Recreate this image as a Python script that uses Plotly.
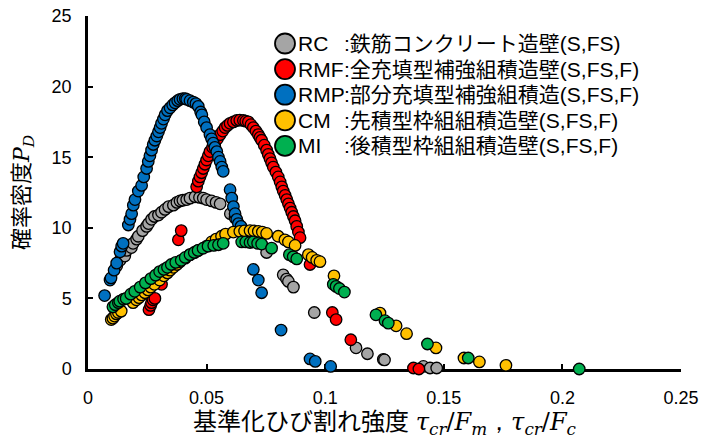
import plotly.graph_objects as go

# ---------------- data ----------------
series_codes = ["RC", "RMF", "RMP", "CM", "MI"]
series_desc = [
    ":鉄筋コンクリート造壁(S,FS)",
    ":全充填型補強組積造壁(S,FS,F)",
    ":部分充填型補強組積造(S,FS,F)",
    ":先積型枠組組積造壁(S,FS,F)",
    ":後積型枠組組積造壁(S,FS,F)",
]
series_colors = ["#A5A5A5", "#FF0000", "#0070C0", "#FFC000", "#00B050"]

rc_x = [0.0121, 0.0135, 0.0155, 0.0163, 0.0183, 0.0190, 0.0205, 0.0212, 0.0230, 0.0247,
        0.0255, 0.0268, 0.0280, 0.0297, 0.0310, 0.0325, 0.0340, 0.0360, 0.0375, 0.0388,
        0.0400, 0.0416, 0.0430, 0.0451, 0.0470, 0.0486, 0.0500, 0.0521, 0.0540, 0.0557,
        0.0600, 0.0620, 0.0753, 0.0823, 0.0837, 0.0845, 0.0866, 0.0954, 0.1130, 0.1178,
        0.1245, 0.1250, 0.1414, 0.1442, 0.1470]
rc_y = [7.3, 7.7, 8.0, 8.4, 8.6, 8.9, 9.2, 9.4, 9.8, 10.1,
        10.3, 10.6, 10.8, 10.9, 11.1, 11.3, 11.5, 11.6, 11.8, 11.9,
        11.95, 12.0, 12.1, 12.2, 12.15, 12.1, 12.0, 11.9, 11.8, 11.7,
        11.0, 10.7, 8.25, 6.67, 6.37, 6.2, 5.8, 4.0, 1.5, 1.08,
        0.68, 0.64, 0.18, 0.07, 0.07]

rmf_x = [0.0257, 0.0264, 0.0268, 0.0274, 0.0282, 0.0310, 0.0381, 0.0393,
         0.0458, 0.0465, 0.0472, 0.0479, 0.0486, 0.0493, 0.0500, 0.0507, 0.0514, 0.0525,
         0.0535, 0.0546, 0.0557, 0.0568, 0.0578, 0.0588, 0.0599, 0.0613, 0.0627, 0.0640,
         0.0655, 0.0665, 0.0676, 0.0687, 0.0697, 0.0708, 0.0718, 0.0725, 0.0732, 0.0743,
         0.0753, 0.0760, 0.0767, 0.0774, 0.0781, 0.0792, 0.0802, 0.0810, 0.0817, 0.0823,
         0.0831, 0.0838, 0.0845, 0.0852, 0.0859, 0.0866, 0.0873, 0.0880, 0.0887, 0.0894,
         0.0936, 0.1030, 0.1046, 0.1108, 0.1372, 0.1395]
rmf_y = [4.2, 4.5, 4.7, 4.9, 5.0, 6.0, 9.15, 9.8,
         12.9, 13.3, 13.6, 13.9, 14.2, 14.5, 14.8, 15.1, 15.4, 15.7,
         16.0, 16.3, 16.6, 16.85, 17.1, 17.25, 17.4, 17.5, 17.6, 17.62,
         17.6, 17.55, 17.5, 17.3, 17.1, 16.85, 16.6, 16.4, 16.2, 15.85,
         15.5, 15.2, 14.9, 14.6, 14.3, 13.95, 13.6, 13.25, 12.9, 12.6,
         12.3, 12.0, 11.7, 11.4, 11.1, 10.8, 10.5, 10.1, 9.7, 9.3,
         7.4, 4.0, 3.5, 2.07, 0.07, 0.0]

rmp_x = [0.0070, 0.0093, 0.0097, 0.0110, 0.0121, 0.0135, 0.0142, 0.0148, 0.0170, 0.0177,
         0.0184, 0.0191, 0.0198, 0.0212, 0.0226, 0.0235, 0.0247, 0.0254, 0.0261, 0.0268,
         0.0275, 0.0282, 0.0290, 0.0297, 0.0304, 0.0310, 0.0318, 0.0325, 0.0335, 0.0346,
         0.0357, 0.0367, 0.0378, 0.0388, 0.0400, 0.0410, 0.0416, 0.0430, 0.0444, 0.0455,
         0.0465, 0.0475, 0.0480, 0.0490, 0.0500, 0.0514, 0.0521, 0.0528, 0.0535, 0.0543,
         0.0550, 0.0557, 0.0564, 0.0570, 0.0599, 0.0606, 0.0613, 0.0620, 0.0627, 0.0634,
         0.0645, 0.0697, 0.0718, 0.0732, 0.0814, 0.0936, 0.0958, 0.1023]
rmp_y = [5.2, 6.3, 6.45, 7.0, 7.5, 8.3, 8.7, 8.9, 10.2, 10.6,
         11.0, 11.6, 12.0, 12.6, 13.0, 13.6, 14.2, 14.7, 15.1, 15.5,
         15.9, 16.2, 16.5, 16.8, 17.1, 17.4, 17.7, 18.0, 18.3, 18.5,
         18.7, 18.85, 19.0, 19.1, 19.15, 19.15, 19.1, 19.0, 18.9, 18.8,
         18.6, 18.2, 18.0, 17.5, 17.1, 16.6, 16.3, 16.0, 15.7, 15.4,
         15.0, 14.7, 14.3, 14.0, 12.7, 12.1, 11.5, 11.0, 10.6, 10.3,
         10.1, 7.05, 6.3, 5.4, 2.76, 0.71, 0.54, 0.18]

cm_x = [0.0098, 0.0105, 0.0112, 0.0120, 0.0128, 0.0140, 0.0190, 0.0204, 0.0215, 0.0226,
        0.0240, 0.0253, 0.0265, 0.0280, 0.0302, 0.0320, 0.0335, 0.0346, 0.0360, 0.0375,
        0.0388, 0.0410, 0.0430, 0.0450, 0.0465, 0.0500, 0.0521, 0.0540, 0.0563, 0.0580,
        0.0613, 0.0640, 0.0660, 0.0683, 0.0700, 0.0718, 0.0735, 0.0753, 0.0802, 0.0830,
        0.0845, 0.0873, 0.0929, 0.0945, 0.0964, 0.0978, 0.1037, 0.1231, 0.1299, 0.1343,
        0.1467, 0.1585, 0.1650, 0.1762]
cm_y = [3.5, 3.6, 3.75, 3.9, 4.0, 4.1, 4.7, 4.9, 5.05, 5.25,
        5.4, 5.6, 5.8, 6.0, 6.3, 6.6, 6.8, 7.0, 7.2, 7.4,
        7.6, 7.85, 8.1, 8.25, 8.4, 8.7, 9.0, 9.2, 9.4, 9.55,
        9.7, 9.75, 9.78, 9.8, 9.78, 9.75, 9.7, 9.6, 9.4, 9.15,
        9.0, 8.75, 8.1, 7.9, 7.7, 7.6, 6.6, 3.96, 3.06, 2.5,
        1.49, 0.78, 0.5, 0.26]

mi_x = [0.0105, 0.0115, 0.0128, 0.0134, 0.0150, 0.0161, 0.0180, 0.0197, 0.0220, 0.0242,
        0.0265, 0.0285, 0.0302, 0.0320, 0.0335, 0.0351, 0.0370, 0.0393, 0.0410, 0.0430,
        0.0448, 0.0464, 0.0485, 0.0506, 0.0530, 0.0550, 0.0570, 0.0648, 0.0665, 0.0683,
        0.0697, 0.0715, 0.0732, 0.0774, 0.0849, 0.0865, 0.0880, 0.1034, 0.1046, 0.1060,
        0.1081, 0.1214, 0.1252, 0.1266, 0.1431, 0.1603, 0.2071]
mi_y = [4.4, 4.55, 4.7, 4.8, 4.95, 5.0, 5.3, 5.5, 5.8, 6.1,
        6.4, 6.65, 6.9, 7.05, 7.2, 7.4, 7.55, 7.7, 7.9, 8.1,
        8.25, 8.4, 8.55, 8.7, 8.75, 8.8, 8.9, 9.0, 9.0, 8.96,
        9.0, 8.9, 8.85, 8.56, 8.1, 7.95, 7.8, 6.0, 5.85, 5.7,
        5.45, 3.84, 3.42, 3.25, 1.77, 0.78, 0.0]

x_ticks = [0, 0.05, 0.1, 0.15, 0.2, 0.25]
y_ticks = [0, 5, 10, 15, 20, 25]

all_x = [rc_x, rmf_x, rmp_x, cm_x, mi_x]
all_y = [rc_y, rmf_y, rmp_y, cm_y, mi_y]

# ---------------- figure ----------------
W, H = 702, 439
ML, MR, MT, MB = 88, 21, 16, 70
PW, PH = W - ML - MR, H - MT - MB

LATIN = "Liberation Sans, Arial, Noto Sans CJK JP, sans-serif"
SERIF = "DejaVu Serif, Liberation Serif, serif"

fig = go.Figure()
for code, xs, ys, col in zip(series_codes, all_x, all_y, series_colors):
    fig.add_trace(go.Scatter(
        x=xs, y=ys, mode="markers", name=code, showlegend=False,
        cliponaxis=False,
        marker=dict(size=11.5, color=col, line=dict(color="black", width=1.3)),
    ))

# manual legend (positions in pixels -> paper coordinates)
leg_x_px = 285
leg_y0_px = 43.5
leg_dy_px = 25.6
for i, (code, desc, col) in enumerate(zip(series_codes, series_desc, series_colors)):
    py = leg_y0_px + i * leg_dy_px
    xp = (leg_x_px - ML) / PW
    yp = (H - MB - py) / PH
    fig.add_shape(type="circle", xref="paper", yref="paper",
                  xsizemode="pixel", ysizemode="pixel",
                  xanchor=xp, yanchor=yp, x0=-10, x1=10, y0=-10, y1=10,
                  fillcolor=col, line=dict(color="black", width=1.8), layer="above")
    fig.add_annotation(x=(296 - ML) / PW, y=yp, xref="paper", yref="paper",
                       xanchor="left", yanchor="middle", showarrow=False,
                       text=code, font=dict(size=21, color="black", family=LATIN))
    fig.add_annotation(x=(342 - ML) / PW, y=yp, xref="paper", yref="paper",
                       xanchor="left", yanchor="middle", showarrow=False,
                       text=desc, font=dict(size=21, color="black", family=LATIN))

math_x = ("<span style='font-family:" + SERIF + "'>"
          "<i>τ</i><sub><i>cr</i></sub>/<i>F</i><sub><i>m</i></sub>，"
          "<i>τ</i><sub><i>cr</i></sub>/<i>F</i><sub><i>c</i></sub></span>")
math_y = "<span style='font-family:" + SERIF + "'><i>P</i><sub><i>D</i></sub></span>"

fig.update_layout(
    width=W, height=H,
    margin=dict(l=ML, r=MR, t=MT, b=MB, autoexpand=False),
    paper_bgcolor="white", plot_bgcolor="white",
    font=dict(family=LATIN, color="black", size=18),
    showlegend=False,
)
fig.update_xaxes(
    range=[0, 0.25], tickvals=x_ticks, ticktext=[f"{v:g}" for v in x_ticks],
    showgrid=False, zeroline=False, showline=True, linecolor="black", linewidth=2.5,
    ticks="inside", ticklen=5, tickwidth=1.5, tickcolor="black",
    tickfont=dict(size=18, family=LATIN), ticklabelstandoff=11,
    layer="below traces",
    title=dict(text="基準化ひび割れ強度 " + math_x, font=dict(size=24, family=LATIN),
               standoff=6),
)
fig.update_yaxes(
    range=[0, 25], tickvals=y_ticks, ticktext=[f"{v:g}" for v in y_ticks],
    showgrid=False, zeroline=False, showline=True, linecolor="black", linewidth=2.5,
    ticks="inside", ticklen=5, tickwidth=1.5, tickcolor="black",
    tickfont=dict(size=18, family=LATIN), ticklabelstandoff=10,
    layer="below traces",
    title=dict(text="確率密度" + math_y, font=dict(size=22, family=LATIN), standoff=16),
)

fig.write_html("out.html", config={"displayModeBar": False},
               post_script="document.body.style.margin='0';document.body.style.padding='0';")
